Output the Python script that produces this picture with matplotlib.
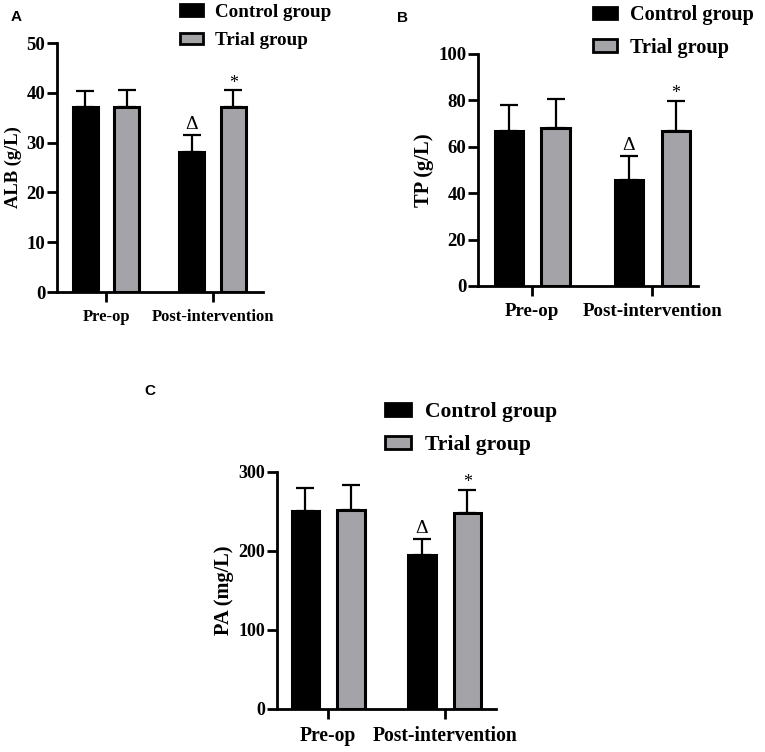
import numpy as np
from matplotlib import pyplot as plt
from matplotlib.patches import Patch

plt.rcParams["font.family"] = ["Liberation Serif", "DejaVu Serif"]
plt.rcParams["font.weight"] = "bold"

groups = ["Pre-op", "Post-intervention"]
series = ["Control group", "Trial group"]

alb_mean = [[37.1, 28.2], [37.1, 37.1]]
alb_err = [[3.3, 3.3], [3.4, 3.4]]
tp_mean = [[67.0, 45.6], [68.0, 67.0]]
tp_err = [[11.1, 10.5], [12.6, 12.8]]
pa_mean = [[250.3, 194.7], [251.6, 248.2]]
pa_err = [[29.9, 20.6], [32.4, 28.7]]

colors = ["#000000", "#a4a4a8"]

panels = [
    # letter, means, errs, ylabel, ymax, ystep, axes rect, xlim, legend anchor, letter pos,
    # font sizes: yticks, xticks, ylabel, legend
    ("A", alb_mean, alb_err, "ALB (g/L)", 50, 10,
     [0.0745, 0.6117, 0.269, 0.331], (-0.46, 1.47), (0.213, 1.018), (0.014, 0.987),
     (13.5, 12, 13.3, 13.7)),
    ("B", tp_mean, tp_err, "TP (g/L)", 100, 20,
     [0.6248, 0.6197, 0.2876, 0.3085], (-0.45, 1.38), (0.751, 1.017), (0.519, 0.985),
     (13.5, 13.6, 14.8, 14.6)),
    ("C", pa_mean, pa_err, "PA (mg/L)", 300, 100,
     [0.362, 0.0572, 0.2863, 0.3152], (-0.44, 1.44), (0.478, 0.491), (0.189, 0.489),
     (13, 14.1, 14.7, 15.6)),
]

fig = plt.figure(figsize=(7.65, 7.52), dpi=100)

for letter, means, errs, ylabel, ymax, ystep, rect, xlim, lg_anchor, lpos, fs in panels:
    ax = fig.add_axes(rect)
    x = np.arange(len(groups))
    offs = [-0.195, 0.195]
    width = 0.235
    for i in range(2):
        ax.bar(x + offs[i], means[i], width, color=colors[i], edgecolor="black",
               linewidth=2.2, zorder=3)
        ax.errorbar(x + offs[i], means[i], yerr=[np.zeros(2), errs[i]], fmt="none",
                    ecolor="black", elinewidth=1.6, capsize=6.5, capthick=1.6, zorder=2)
    # significance marks on post-intervention
    top_c = means[0][1] + errs[0][1]
    top_t = means[1][1] + errs[1][1]
    ax.text(x[1] + offs[0], top_c + ymax * 0.01, "\u0394", ha="center", va="bottom",
            fontsize=14, fontweight="normal")
    ax.text(x[1] + offs[1], top_t - ymax * 0.005, "*", ha="center", va="bottom",
            fontsize=13, fontweight="normal")

    ax.set_xlim(*xlim)
    ax.set_ylim(0, ymax)
    ax.set_yticks(np.arange(0, ymax + 1, ystep))
    ax.set_xticks(x)
    ax.set_xticklabels(groups, fontsize=fs[1], fontweight="bold")
    ax.tick_params(axis="y", labelsize=fs[0], width=2, length=7, direction="out", pad=1.5)
    ax.tick_params(axis="x", width=2, length=7, direction="out", pad=5)
    for lab in ax.get_yticklabels():
        lab.set_fontweight("bold")
    ax.set_ylabel(ylabel, fontsize=fs[2], fontweight="bold", labelpad=3)
    for s in ["top", "right"]:
        ax.spines[s].set_visible(False)
    for s in ["left", "bottom"]:
        ax.spines[s].set_linewidth(2)

    handles = [Patch(facecolor=colors[i], edgecolor="black", linewidth=2) for i in range(2)]
    fig.legend(handles, series, loc="upper left", bbox_to_anchor=lg_anchor,
               frameon=False, prop={"size": fs[3], "weight": "bold"},
               handlelength=1.2, handleheight=0.55, handletextpad=0.65, labelspacing=0.6)

    fig.text(lpos[0], lpos[1], letter, fontsize=11, fontweight="bold",
             family=["Liberation Sans", "DejaVu Sans"], ha="left", va="top")

fig.savefig("out.png", dpi=100, facecolor="white")
